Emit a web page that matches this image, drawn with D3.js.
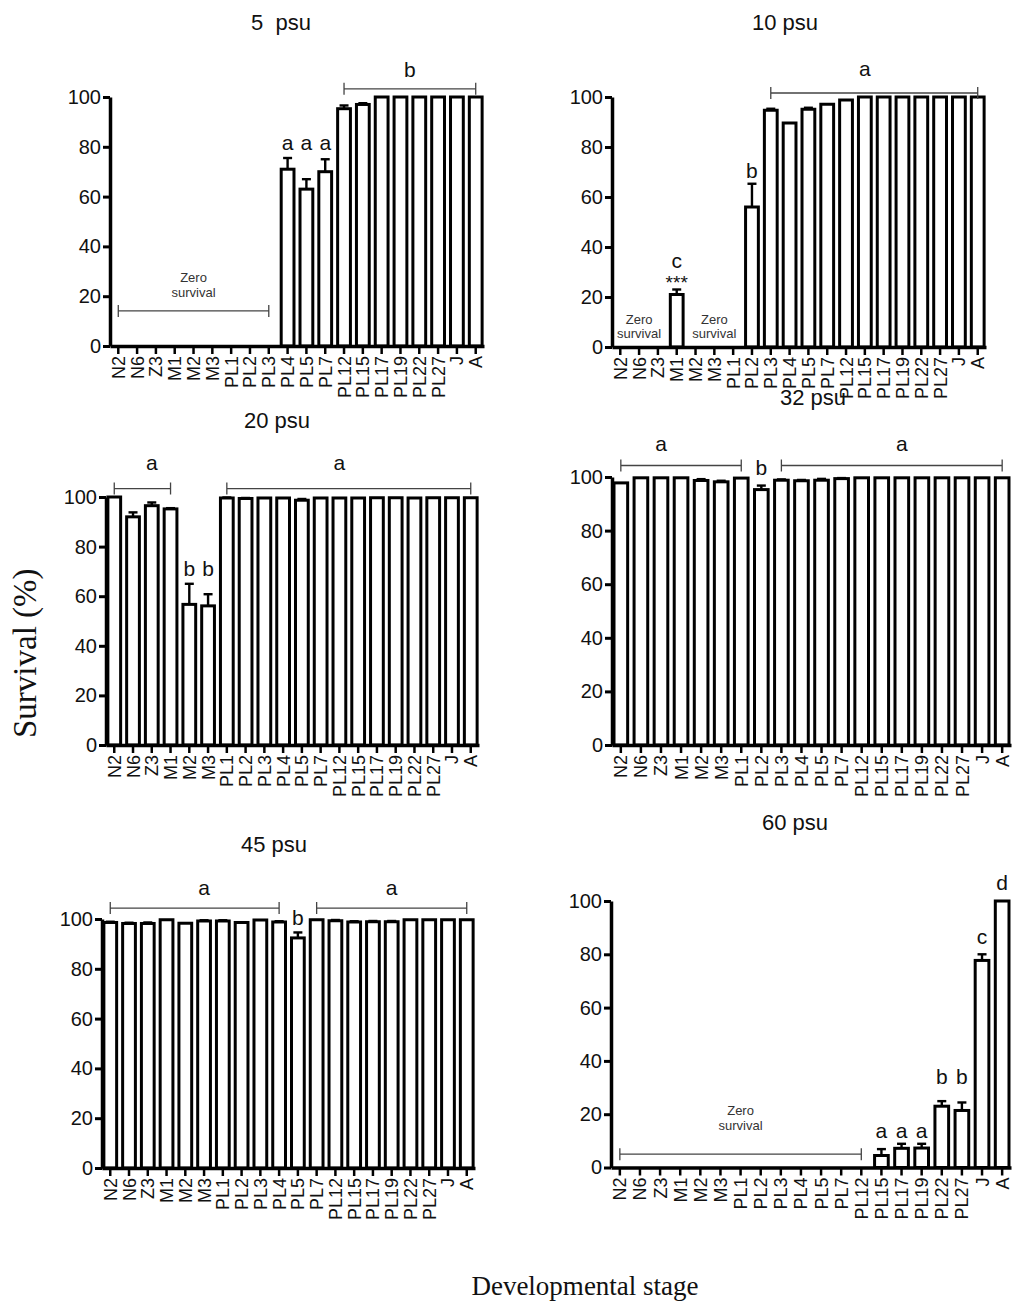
<!DOCTYPE html>
<html>
<head>
<meta charset="utf-8">
<script src="https://cdn.jsdelivr.net/npm/d3@7.9.0/dist/d3.min.js"></script>
<style>
  body { margin: 0; background: #fff; }
  text { font-family: "Liberation Sans", Arial, sans-serif; fill: #111; }
</style>
</head>
<body>
<div id="chart"></div>
<script>
// data
const stages = ["N2","N6","Z3","M1","M2","M3","PL1","PL2","PL3","PL4","PL5","PL7","PL12","PL15","PL17","PL19","PL22","PL27","J","A"];
const yTicks = [0, 20, 40, 60, 80, 100];

const surv5 = [0,0,0,0,0,0,0,0,0,71,63,70,95.3,97,100,100,100,100,100,100];
const err5  = [0,0,0,0,0,0,0,0,0,4.5,4,5,1.3,0.5,0,0,0,0,0,0];

const surv10 = [0,0,0,21,0,0,0,56,94.7,89.6,95.1,97.1,98.8,100,100,100,100,100,100,100];
const err10  = [0,0,0,2,0,0,0,9.3,0.6,0,0.6,0,0,0,0,0,0,0,0,0];

const surv20 = [100,92,96.5,95.2,56.7,56.1,99.6,99.4,99.6,99.6,98.7,99.6,99.6,99.6,99.7,99.7,99.6,99.7,99.7,99.7];
const err20  = [0,1.8,1.3,0.3,8.3,4.7,0.2,0.2,0,0,0.5,0,0,0,0,0,0,0,0,0];

const surv32 = [97.8,99.7,99.7,99.7,98.7,98.2,99.6,95.3,98.8,98.6,98.8,99.4,99.7,99.7,99.7,99.7,99.7,99.7,99.7,99.7];
const err32  = [0,0,0,0,0.5,0.4,0,1.5,0.3,0.3,0.5,0.2,0,0,0,0,0,0,0,0];

const surv45 = [98.6,98.2,98.2,99.7,98.3,99.2,99.2,98.6,99.6,98.8,92.4,99.7,99.3,98.8,98.9,98.9,99.7,99.7,99.7,99.7];
const err45  = [0.3,0.3,0.4,0,0,0.3,0.3,0,0,0.3,2.2,0,0.3,0.3,0.3,0.3,0,0,0,0];

const surv60 = [0,0,0,0,0,0,0,0,0,0,0,0,0,4.5,7.2,7.3,23,21.4,77.7,100];
const err60  = [0,0,0,0,0,0,0,0,0,0,0,0,0,2.4,1.7,1.6,1.9,3,2.3,0];

// significance letters (stage, text, value where baseline sits)
const letters5 = [{stage:"PL4",text:"a",at:78.7},{stage:"PL5",text:"a",at:78.7},{stage:"PL7",text:"a",at:78.7}];
const letters10 = [{stage:"M1",text:"c",at:31.5},{stage:"M1",text:"***",at:23.2,small:true},{stage:"PL2",text:"b",at:67.8}];
const letters20 = [{stage:"M2",text:"b",at:68},{stage:"M3",text:"b",at:68}];
const letters32 = [{stage:"PL2",text:"b",at:100.9}];
const letters45 = [{stage:"PL5",text:"b",at:97.7}];
const letters60 = [
  {stage:"PL15",text:"a",at:11.2},{stage:"PL17",text:"a",at:11.2},{stage:"PL19",text:"a",at:11.2},
  {stage:"PL22",text:"b",at:31.3},{stage:"PL27",text:"b",at:31.3},
  {stage:"J",text:"c",at:83.7},{stage:"A",text:"d",at:104}
];

// group brackets
const brackets5 = [{from:"PL12",to:"A",at:103.3,label:"b",labelAt:108}];
const brackets10 = [{from:"PL3",to:"A",at:101.6,label:"a",labelAt:108.3,labelStage:"PL15"}];
const brackets20 = [
  {from:"N2",to:"M1",at:103.4,label:"a",labelAt:110.7,labelStage:"Z3"},
  {from:"PL1",to:"A",at:103.4,label:"a",labelAt:110.7,labelStage:"PL12"}
];
const brackets32 = [
  {from:"N2",to:"PL1",at:104.3,label:"a",labelAt:109.8,labelStage:"Z3"},
  {from:"PL3",to:"A",at:104.3,label:"a",labelAt:109.8,labelStage:"PL17"}
];
const brackets45 = [
  {from:"N2",to:"PL4",at:104.4,label:"a",labelAt:109.7,labelStage:"M3"},
  {from:"PL7",to:"A",at:104.4,label:"a",labelAt:109.7}
];

// "Zero survival" notes
const zero5 = [{from:"N2",to:"PL3",line:14.1,textAt:[25.8,19.8]}];
const zero10 = [{from:"N2",to:"Z3",textAt:[9.4,3.6]},{from:"M2",to:"PL1",textAt:[9.4,3.6]}];
const zero60 = [{from:"N2",to:"PL12",line:5,textAt:[19.7,14.1]}];

// layout
const width = 1013, height = 1310;

const panels = [
  {title:"5  psu", values:surv5, errors:err5, letters:letters5, brackets:brackets5, zero:zero5,
   x0:110, x1:484, yTop:97, yBot:346, titleX:281, titleY:30},
  {title:"10 psu", values:surv10, errors:err10, letters:letters10, brackets:brackets10, zero:zero10,
   x0:612, x1:986, yTop:97, yBot:347, titleX:785, titleY:30},
  {title:"20 psu", values:surv20, errors:err20, letters:letters20, brackets:brackets20, zero:[],
   x0:106, x1:479, yTop:497, yBot:745, titleX:277, titleY:428},
  {title:"32 psu", values:surv32, errors:err32, letters:letters32, brackets:brackets32, zero:[],
   x0:612, x1:1011, yTop:477, yBot:745, titleX:813, titleY:405},
  {title:"45 psu", values:surv45, errors:err45, letters:letters45, brackets:brackets45, zero:[],
   x0:102, x1:475, yTop:919, yBot:1168, titleX:274, titleY:852},
  {title:"60 psu", values:surv60, errors:err60, letters:letters60, brackets:[], zero:zero60,
   x0:611, x1:1011, yTop:901, yBot:1167.5, titleX:795, titleY:830}
];

const svg = d3
  .select("#chart")
  .append("svg")
  .attr("width", width)
  .attr("height", height);

panels.forEach(drawPanel);

// shared axis titles
svg
  .append("text")
  .attr("transform", "translate(36,738) rotate(-90)")
  .attr("text-anchor", "start")
  .style("font-family", "'Liberation Serif', 'Times New Roman', serif")
  .style("font-size", "33px")
  .text("Survival (%)");

svg
  .append("text")
  .attr("x", 585)
  .attr("y", 1295)
  .attr("text-anchor", "middle")
  .style("font-family", "'Liberation Serif', 'Times New Roman', serif")
  .style("font-size", "27px")
  .text("Developmental stage");

function drawPanel(p) {
  const x = d3
    .scaleBand()
    .domain(stages)
    .range([p.x0, p.x1])
    .paddingInner(0.32)
    .paddingOuter(0.1);
  const y = d3.scaleLinear().domain([0, 100]).range([p.yBot, p.yTop]);
  const cx = (s) => x(s) + x.bandwidth() / 2;

  const g = svg.append("g");

  g.append("text")
    .attr("x", p.titleX)
    .attr("y", p.titleY)
    .attr("text-anchor", "middle")
    .style("font-size", "22px")
    .style("white-space", "pre")
    .text(p.title);

  const rows = stages
    .map((s, i) => ({ stage: s, v: p.values[i], e: p.errors[i] }))
    .filter((d) => d.v > 0);

  // error bars (upper only)
  const eb = g.selectAll("g.err").data(rows.filter((d) => d.e > 0)).join("g");
  eb.append("line")
    .attr("x1", (d) => cx(d.stage))
    .attr("x2", (d) => cx(d.stage))
    .attr("y1", (d) => y(d.v))
    .attr("y2", (d) => y(d.v + d.e))
    .attr("stroke", "#000")
    .attr("stroke-width", 2.4);
  eb.append("line")
    .attr("x1", (d) => cx(d.stage) - 4.5)
    .attr("x2", (d) => cx(d.stage) + 4.5)
    .attr("y1", (d) => y(d.v + d.e))
    .attr("y2", (d) => y(d.v + d.e))
    .attr("stroke", "#000")
    .attr("stroke-width", 2.4);

  // bars
  g.selectAll("rect.bar")
    .data(rows)
    .join("rect")
    .attr("class", "bar")
    .attr("x", (d) => x(d.stage))
    .attr("y", (d) => y(d.v))
    .attr("width", x.bandwidth())
    .attr("height", (d) => y(0) - y(d.v))
    .attr("fill", "#fff")
    .attr("stroke", "#000")
    .attr("stroke-width", 3);

  // axes
  const ya = g
    .append("g")
    .attr("transform", `translate(${p.x0},0)`)
    .call(d3.axisLeft(y).tickValues(yTicks).tickSize(7).tickSizeOuter(0).tickPadding(2));
  ya.select(".domain").attr("stroke-width", 3.5);
  ya.selectAll(".tick line").attr("stroke-width", 3);
  ya.selectAll("text").style("font-size", "20px");

  const xa = g
    .append("g")
    .attr("transform", `translate(0,${p.yBot})`)
    .call(d3.axisBottom(x).tickSize(8).tickSizeOuter(0));
  xa.select(".domain").attr("stroke-width", 3.5);
  xa.selectAll(".tick line").attr("stroke-width", 2.5);
  xa.selectAll("text")
    .attr("transform", "rotate(-90)")
    .attr("text-anchor", "end")
    .attr("x", -10)
    .attr("y", 0)
    .attr("dy", "0.36em")
    .style("font-size", "18px");

  // letters
  g.selectAll("text.letter")
    .data(p.letters)
    .join("text")
    .attr("class", "letter")
    .attr("x", (d) => cx(d.stage))
    .attr("y", (d) => y(d.at))
    .attr("text-anchor", "middle")
    .style("font-size", (d) => (d.small ? "19px" : "21px"))
    .text((d) => d.text);

  // brackets
  p.brackets.forEach((b) => {
    const xa1 = cx(b.from), xa2 = cx(b.to), yy = y(b.at);
    const path = d3.path();
    path.moveTo(xa1, yy - 6); path.lineTo(xa1, yy + 6);
    path.moveTo(xa1, yy); path.lineTo(xa2, yy);
    path.moveTo(xa2, yy - 6); path.lineTo(xa2, yy + 6);
    g.append("path")
      .attr("d", path.toString())
      .attr("fill", "none")
      .attr("stroke", "#444")
      .attr("stroke-width", 1.3);
    g.append("text")
      .attr("x", b.labelStage ? cx(b.labelStage) : (xa1 + xa2) / 2)
      .attr("y", y(b.labelAt))
      .attr("text-anchor", "middle")
      .style("font-size", "21px")
      .text(b.label);
  });

  // zero survival notes
  p.zero.forEach((z) => {
    const xa1 = cx(z.from), xa2 = cx(z.to), mid = (xa1 + xa2) / 2;
    if (z.line !== undefined) {
      const yy = y(z.line);
      const path = d3.path();
      path.moveTo(xa1, yy - 6); path.lineTo(xa1, yy + 6);
      path.moveTo(xa1, yy); path.lineTo(xa2, yy);
      path.moveTo(xa2, yy - 6); path.lineTo(xa2, yy + 6);
      g.append("path")
        .attr("d", path.toString())
        .attr("fill", "none")
        .attr("stroke", "#444")
        .attr("stroke-width", 1.3);
    }
    ["Zero", "survival"].forEach((t, i) => {
      g.append("text")
        .attr("x", mid)
        .attr("y", y(z.textAt[i]))
        .attr("text-anchor", "middle")
        .style("font-size", "13px")
        .style("fill", "#333")
        .text(t);
    });
  });
}
</script>
</body>
</html>
